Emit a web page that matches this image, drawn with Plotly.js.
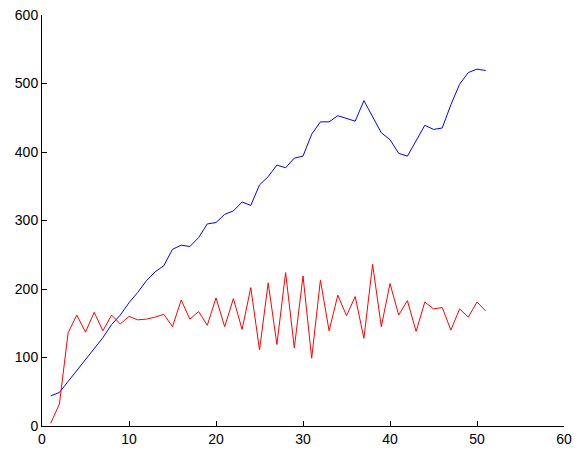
<!DOCTYPE html>
<html>
<head>
<meta charset="utf-8">
<script src="https://cdn.plot.ly/plotly-3.0.1.min.js"></script>
<style>
  html, body { margin: 0; padding: 0; background: #fff; }
  #chart { width: 577px; height: 458px; }
</style>
</head>
<body>
<div id="chart"></div>
<script>
// Sample index (1..51)
const steps = Array.from({length: 51}, (_, i) => i + 1);

// Cumulative series (blue)
const blueValues = [
  44, 49, 65, 81, 97, 113, 129, 148, 162, 180,
  195, 212, 225, 234, 258, 264, 262, 275, 295, 297,
  309, 314, 327, 322, 352, 364, 381, 377, 391, 394,
  426, 444, 444, 453, 449, 445, 475, 452, 428, 418,
  398, 394, 417, 439, 433, 435, 469, 499, 516, 521, 519
];

// Oscillating series (red)
const redValues = [
  4, 32, 136, 162, 137, 166, 139, 162, 149, 160,
  155, 156, 159, 163, 145, 184, 156, 167, 147, 187,
  145, 186, 141, 202, 111, 209, 119, 224, 114, 219,
  99, 213, 139, 191, 161, 189, 128, 236, 145, 208,
  162, 183, 138, 181, 171, 173, 140, 171, 159, 181, 168
];

const xTicks = [0, 10, 20, 30, 40, 50, 60];
const yTicks = [0, 100, 200, 300, 400, 500, 600];

const traces = [
  { x: steps, y: blueValues, type: 'scatter', mode: 'lines',
    line: { color: 'rgb(0,0,255)', width: 1 }, hoverinfo: 'skip' },
  { x: steps, y: redValues, type: 'scatter', mode: 'lines',
    line: { color: 'rgb(255,0,0)', width: 1 }, hoverinfo: 'skip' }
];

const axisCommon = {
  showgrid: false,
  zeroline: false,
  showline: true,
  linecolor: '#000',
  linewidth: 1,
  mirror: false,
  ticks: 'inside',
  ticklen: 5,
  tickwidth: 1,
  tickcolor: '#000',
  tickmode: 'array',
  tickfont: { family: 'Liberation Sans, Arial, sans-serif', size: 14, color: '#000' }
};

const layout = {
  width: 577,
  height: 458,
  margin: { l: 42, r: 13, t: 15, b: 32 },
  paper_bgcolor: '#fff',
  plot_bgcolor: '#fff',
  showlegend: false,
  xaxis: Object.assign({}, axisCommon, {
    range: [0, 60], tickvals: xTicks, ticktext: xTicks.map(String)
  }),
  yaxis: Object.assign({}, axisCommon, {
    range: [0, 600], tickvals: yTicks, ticktext: yTicks.map(String)
  })
};

Plotly.newPlot('chart', traces, layout, { staticPlot: true, displayModeBar: false });
</script>
</body>
</html>
